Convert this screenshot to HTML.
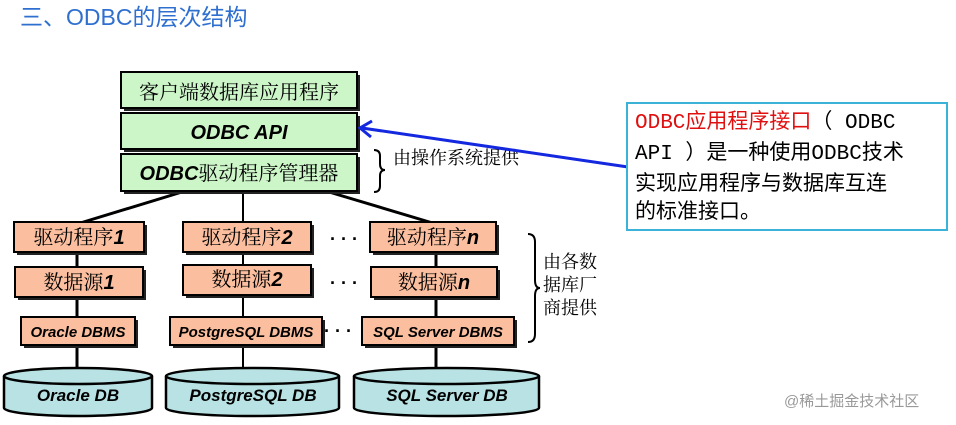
<!DOCTYPE html>
<html><head><meta charset="utf-8"><style>
body{margin:0;width:956px;height:425px;background:#fff;overflow:hidden}
svg{display:block}
.c{font-family:"Liberation Serif","Noto Serif CJK SC","Noto Sans CJK SC",serif;}
.b{font-family:"Liberation Sans","Noto Sans CJK SC",sans-serif;font-weight:bold;font-style:italic}
</style></head><body>
<svg width="956" height="425" viewBox="0 0 956 425" xmlns="http://www.w3.org/2000/svg">
<text x="20" y="25" font-family="Liberation Sans,'Noto Sans CJK SC',sans-serif" font-size="23" fill="#2f6fd0">三、ODBC的层次结构</text>
<g stroke="#000" stroke-width="3" fill="none">
<line x1="182" y1="192" x2="77" y2="224"/>
<line x1="243" y1="192" x2="243" y2="224" stroke-width="2"/>
<line x1="329" y1="192" x2="436" y2="224"/>
<line x1="77" y1="252" x2="77" y2="368"/>
<line x1="243" y1="252" x2="243" y2="368" stroke-width="2"/>
<line x1="436" y1="252" x2="436" y2="368"/>
</g>
<g stroke="#000" stroke-width="2" fill="#ccf5c8">
<rect x="124" y="75" width="236" height="36" fill="#222" stroke="none"/>
<rect x="121" y="72" width="236" height="36"/>
<rect x="124" y="116" width="236" height="36" fill="#222" stroke="none"/>
<rect x="121" y="113" width="236" height="36"/>
<rect x="124" y="157" width="236" height="37" fill="#222" stroke="none"/>
<rect x="121" y="154" width="236" height="37"/>
</g>
<text x="239" y="99" class="c" font-size="20" text-anchor="middle">客户端数据库应用程序</text>
<text x="239" y="139" class="b" font-size="20" text-anchor="middle">ODBC  API</text>
<text x="239" y="180" class="b" font-size="20" text-anchor="middle">ODBC<tspan class="c" font-style="normal" font-weight="normal">驱动程序管理器</tspan></text>
<g stroke="#000" stroke-width="2" fill="#fbbf9f">
<rect x="17" y="225" width="130" height="30" fill="#222" stroke="none"/><rect x="14" y="222" width="130" height="30"/>
<rect x="186" y="225" width="128" height="30" fill="#222" stroke="none"/><rect x="183" y="222" width="128" height="30"/>
<rect x="373" y="225" width="126" height="30" fill="#222" stroke="none"/><rect x="370" y="222" width="126" height="30"/>
<rect x="18" y="270" width="128" height="30" fill="#222" stroke="none"/><rect x="15" y="267" width="128" height="30"/>
<rect x="186" y="268" width="128" height="30" fill="#222" stroke="none"/><rect x="183" y="265" width="128" height="30"/>
<rect x="374" y="270" width="126" height="30" fill="#222" stroke="none"/><rect x="371" y="267" width="126" height="30"/>
<rect x="24" y="320" width="114" height="28" fill="#222" stroke="none"/><rect x="21" y="317" width="114" height="28"/>
<rect x="173" y="320" width="152" height="28" fill="#222" stroke="none"/><rect x="170" y="317" width="152" height="28"/>
<rect x="365" y="320" width="152" height="28" fill="#222" stroke="none"/><rect x="362" y="317" width="152" height="28"/>
</g>
<g font-size="20">
<text x="79" y="244" text-anchor="middle" class="c">驱动程序<tspan class="b">1</tspan></text>
<text x="247" y="244" text-anchor="middle" class="c">驱动程序<tspan class="b">2</tspan></text>
<text x="433" y="244" text-anchor="middle" class="c">驱动程序<tspan class="b">n</tspan></text>
<text x="79" y="289" text-anchor="middle" class="c">数据源<tspan class="b">1</tspan></text>
<text x="247" y="286" text-anchor="middle" class="c">数据源<tspan class="b">2</tspan></text>
<text x="434" y="289" text-anchor="middle" class="c">数据源<tspan class="b">n</tspan></text>
</g>
<g font-size="15" class="b" text-anchor="middle">
<text x="78" y="337">Oracle DBMS</text>
<text x="246" y="337">PostgreSQL DBMS</text>
<text x="438" y="337">SQL Server DBMS</text>
</g>
<g font-size="18" font-family="Liberation Sans,sans-serif" font-weight="bold">
<text x="330" y="245">· · ·</text>
<text x="330" y="289">· · ·</text>
<text x="324" y="337">· · ·</text>
</g>
<g stroke="#000" stroke-width="2.5" fill="#b8e2e4">
<path d="M4 376 A74 8 0 0 1 152 376 L152 408 A74 8 0 0 1 4 408 Z"/>
<path d="M4 376 A74 8 0 0 0 152 376"/>
<path d="M166 376 A86 8 0 0 1 339 376 L339 408 A86 8 0 0 1 166 408 Z"/>
<path d="M166 376 A86 8 0 0 0 339 376"/>
<path d="M354 376 A92 8 0 0 1 539 376 L539 408 A92 8 0 0 1 354 408 Z"/>
<path d="M354 376 A92 8 0 0 0 539 376"/>
</g>
<g font-size="17" class="b" text-anchor="middle">
<text x="78" y="401">Oracle DB</text>
<text x="253" y="401">PostgreSQL DB</text>
<text x="447" y="401">SQL Server DB</text>
</g>
<g stroke="#000" stroke-width="2" fill="none">
<path d="M374 150 Q380 150 380 156 L380 164 Q380 170 385 170 Q380 170 380 176 L380 186 Q380 192 374 192"/>
<path d="M528 234 Q535 234 535 242 L535 280 Q535 288 540 288 Q535 288 535 296 L535 334 Q535 342 528 342"/>
</g>
<text x="393" y="164" class="c" font-size="18">由操作系统提供</text>
<g class="c" font-size="18">
<text x="543" y="268">由各数</text>
<text x="543" y="291">据库厂</text>
<text x="543" y="314">商提供</text>
</g>
<line x1="628" y1="167" x2="362" y2="128" stroke="#1428e0" stroke-width="3"/>
<path d="M372 121 L360 128 L371 137" stroke="#1428e0" stroke-width="3" fill="none"/>
<rect x="627" y="103" width="320" height="127" fill="#fff" stroke="#3bb3d8" stroke-width="2"/>
<g font-family="Liberation Mono,'Noto Sans CJK SC',monospace" font-size="21">
<text x="635" y="128"><tspan fill="#e01010">ODBC应用程序接口</tspan>（ ODBC</text>
<text x="635" y="159">API ）是一种使用ODBC技术</text>
<text x="635" y="190">实现应用程序与数据库互连</text>
<text x="635" y="218">的标准接口。</text>
</g>
<text x="784" y="406" font-family="Liberation Sans,'Noto Sans CJK SC',sans-serif" font-size="15" fill="#999">@稀土掘金技术社区</text>
</svg>
</body></html>
